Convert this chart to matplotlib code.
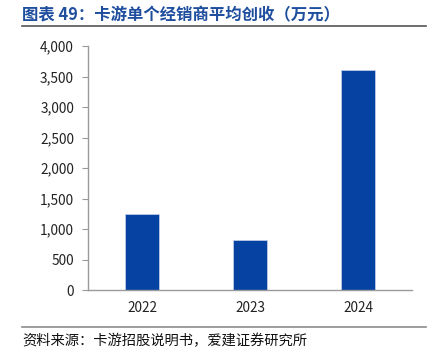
import matplotlib.pyplot as plt
from matplotlib.ticker import FuncFormatter

plt.rcParams['font.family'] = ['Noto Sans CJK SC', 'DejaVu Sans']

years = ['2022', '2023', '2024']
revenue = [1240, 820, 3600]  # 万元
yticks = [0, 500, 1000, 1500, 2000, 2500, 3000, 3500, 4000]

fig = plt.figure(figsize=(4.38, 3.53), dpi=100)

# 标题与上下分隔线
fig.text(22 / 438, 1 - 15 / 353, '图表 49：卡游单个经销商平均创收（万元）',
         fontsize=11.8, fontweight='bold', color='#1F4E9E', va='center', ha='left')
fig.add_artist(plt.Line2D([22 / 438, 426 / 438], [1 - 26 / 353] * 2, color='#555555', lw=1.2))
fig.add_artist(plt.Line2D([22 / 438, 426 / 438], [1 - 327 / 353] * 2, color='#8c8c8c', lw=1.2))
fig.text(22 / 438, 1 - 341 / 353, '资料来源：卡游招股说明书，爱建证券研究所',
         fontsize=10.3, color='#111111', va='center', ha='left')

ax = fig.add_axes([88 / 438, 1 - 290 / 353, 324 / 438, 244 / 353])
ax.bar(years, revenue, width=0.31, color='#0542A2', edgecolor='#c8d4ea', linewidth=0.5)

ax.set_xlim(-0.5, 2.5)
ax.set_ylim(0, 4000)
ax.set_yticks(yticks)
ax.yaxis.set_major_formatter(FuncFormatter(lambda v, p: f'{int(v):,}'))

for s in ['top', 'right']:
    ax.spines[s].set_visible(False)
for s in ['left', 'bottom']:
    ax.spines[s].set_color('#9a9a9a')
    ax.spines[s].set_linewidth(1.0)

ax.tick_params(axis='y', length=4, color='#9a9a9a', labelsize=9.8, labelcolor='#222222', pad=6)
ax.tick_params(axis='x', length=0, labelsize=9.8, labelcolor='#222222', pad=8)

fig.savefig('out.png', dpi=100)
